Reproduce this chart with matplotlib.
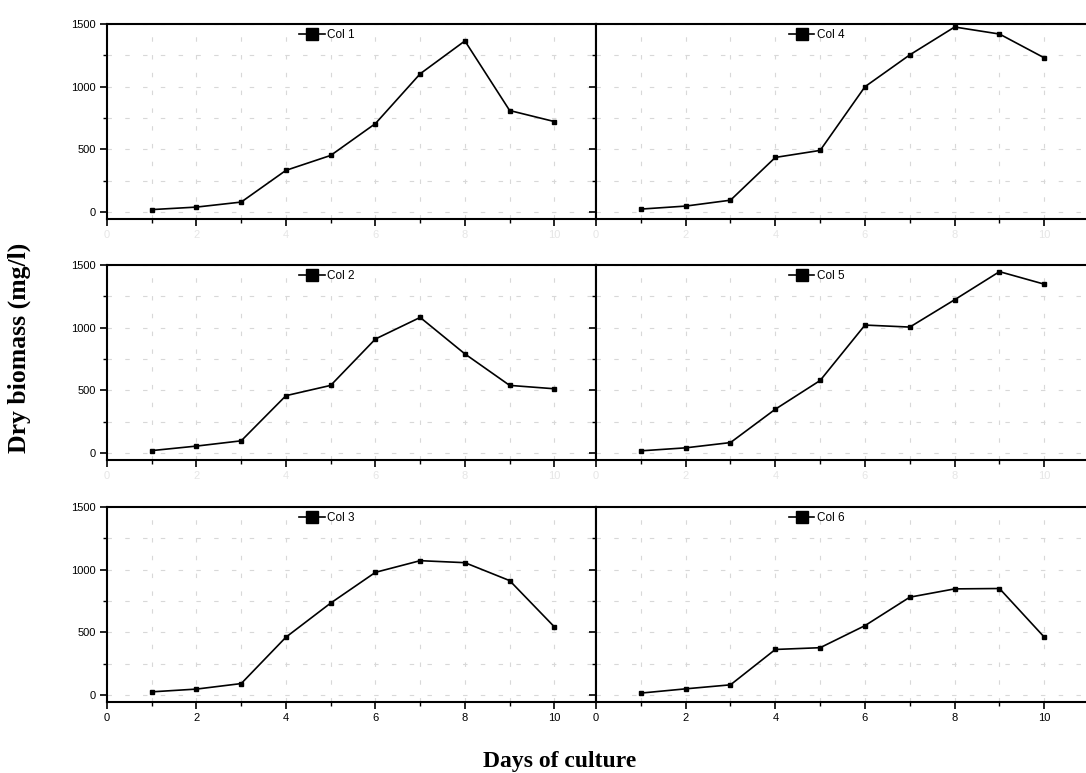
import matplotlib
matplotlib.use('Agg')
import matplotlib.pyplot as plt
import numpy as np
from matplotlib.ticker import MultipleLocator

days = [1, 2, 3, 4, 5, 6, 7, 8, 9, 10]
col1 = [20, 40, 80, 333, 452, 706, 1103, 1365, 810, 722]
col2 = [20, 56, 98, 458, 540, 910, 1082, 791, 540, 513]
col3 = [26, 48, 92, 462, 734, 979, 1072, 1056, 913, 544]
col4 = [24, 48, 95, 436, 492, 1000, 1254, 1476, 1420, 1230]
col5 = [18, 42, 84, 350, 579, 1021, 1005, 1223, 1447, 1347]
col6 = [16, 50, 82, 364, 378, 554, 781, 847, 850, 462]

# panel order: left column, right column
panels = [('Col 1', col1), ('Col 4', col4),
          ('Col 2', col2), ('Col 5', col5),
          ('Col 3', col3), ('Col 6', col6)]

fig = plt.figure(figsize=(10.86, 7.73), dpi=100)
lefts = [107 / 1086, 596 / 1086]
widths = [489 / 1086, 490 / 1086]
bottoms = [1 - 219 / 773, 1 - 460 / 773, 1 - 702 / 773]
height = 195 / 773

for i, (name, vals) in enumerate(panels):
    row, col = i // 2, i % 2
    ax = fig.add_axes([lefts[col], bottoms[row], widths[col], height])
    ax.plot(days, vals, color='black', lw=1.2, marker='s', markersize=3.5,
            label=name, zorder=3)
    ax.set_xlim(0, 10.93)
    ax.set_ylim(-55, 1500)
    ax.xaxis.set_major_locator(MultipleLocator(2))
    ax.xaxis.set_minor_locator(MultipleLocator(1))
    ax.yaxis.set_major_locator(MultipleLocator(500))
    ax.yaxis.set_minor_locator(MultipleLocator(250))
    ax.tick_params(which='major', direction='out', length=5, width=1.2,
                   labelsize=8, pad=3)
    ax.tick_params(which='minor', direction='out', length=3, width=1.0)
    for s in ax.spines.values():
        s.set_linewidth(1.5)
    ax.spines['right'].set_visible(col == 0)
    ax.grid(which='both', color='#d8d8d8', lw=0.8, linestyle=(0, (4, 12)))
    ax.set_axisbelow(True)
    for lab in ax.get_xticklabels() + ax.get_yticklabels():
        lab.set_fontfamily('Liberation Sans')
    if col == 1:
        ax.set_yticklabels([])
    if row < 2:
        for lab in ax.get_xticklabels():
            lab.set_color('#e6e6e6')
    leg = ax.legend(loc='upper center', bbox_to_anchor=(0.45, 1.03),
                    frameon=False, markerscale=2.3, handlelength=2.2,
                    handletextpad=0.2, prop={'family': 'Liberation Sans', 'size': 8.5})

fig.text(0.0175, 0.55, 'Dry biomass (mg/l)', rotation=90, ha='center', va='center',
         fontsize=18.5, fontweight='bold', family='Liberation Serif')
fig.text(0.515, 0.008, 'Days of culture', ha='center', va='baseline',
         fontsize=17, fontweight='bold', family='Liberation Serif')

fig.savefig('out.png', dpi=100)
